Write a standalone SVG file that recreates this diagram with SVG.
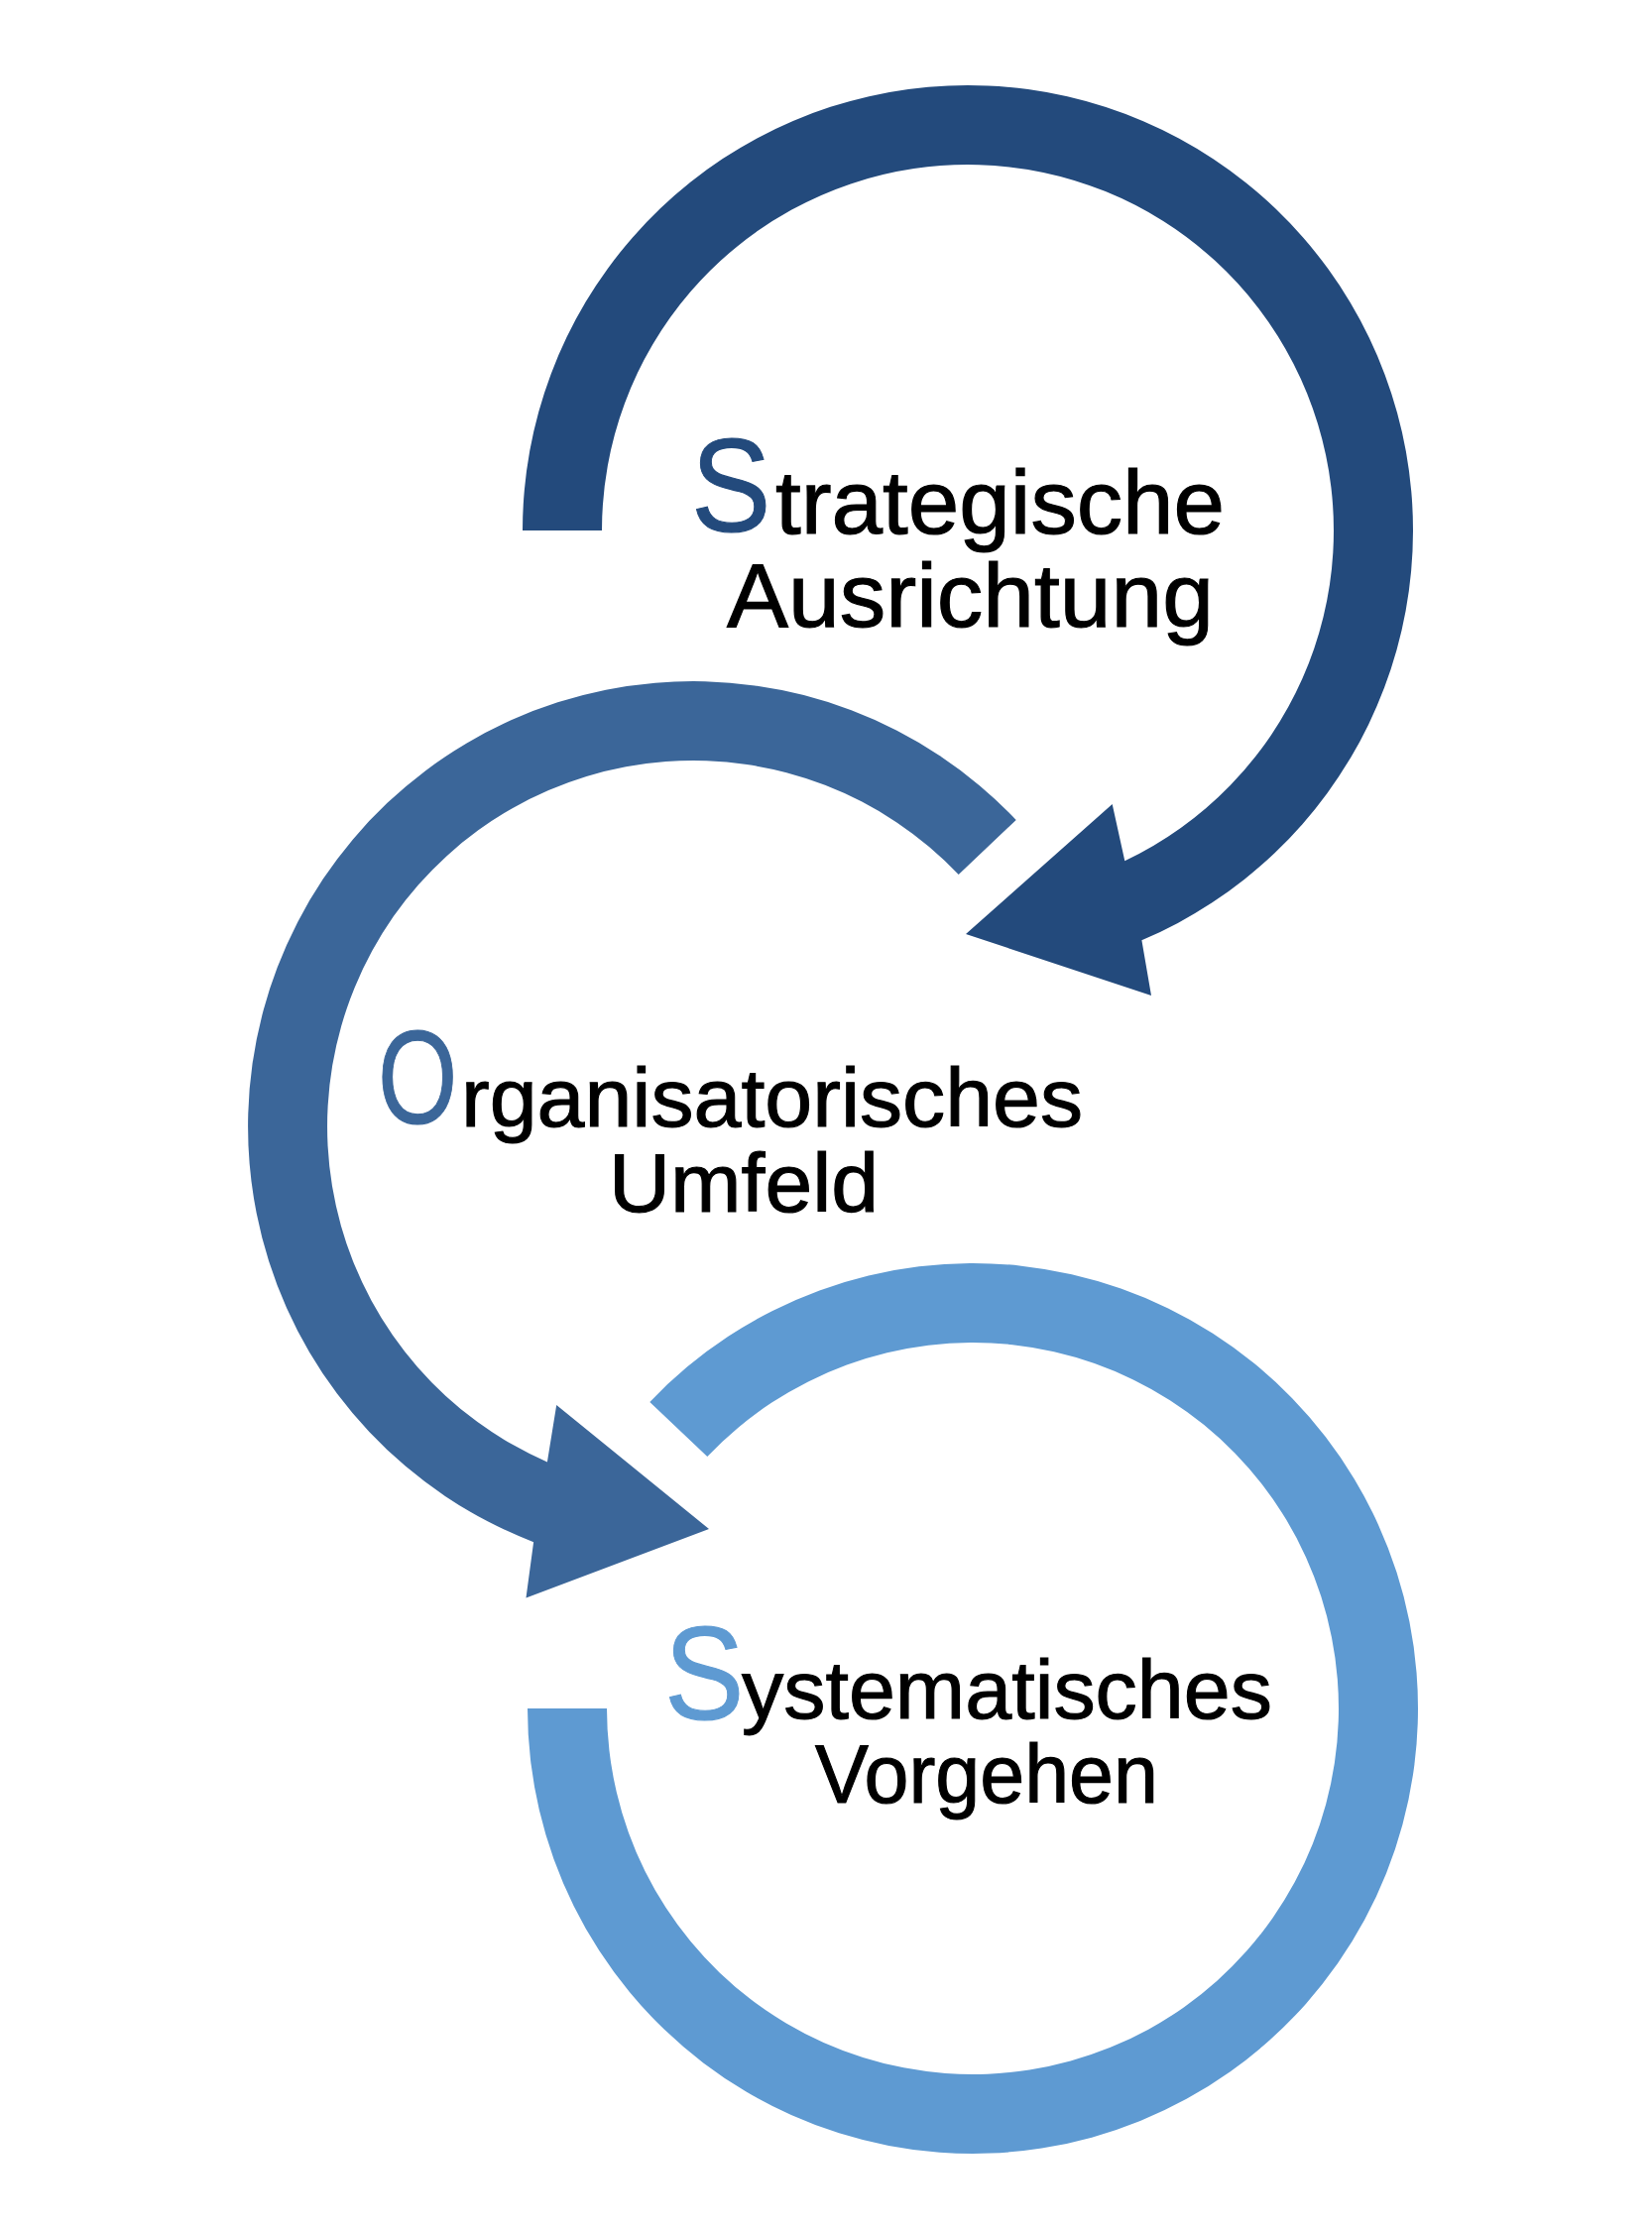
<svg xmlns="http://www.w3.org/2000/svg" width="1666" height="2250" viewBox="0 0 1666 2250">
  <style>
    .bg { fill: #ffffff; }
    .c1 { fill: #234A7C; }
    .c2 { fill: #3B6699; }
    .c3 { fill: #5E9AD2; }
    .t { font-family: "Liberation Sans", Arial, sans-serif; fill: #000000; stroke: #000000; stroke-width: 1.1; }
    .big { font-family: "Liberation Sans", Arial, sans-serif; font-size: 134px; stroke-width: 1.1; }
    .b1 { fill: #234A7C; stroke: #234A7C; }
    .b2 { fill: #3B6699; stroke: #3B6699; }
    .b3 { fill: #5E9AD2; stroke: #5E9AD2; }
  </style>
  <rect class="bg" x="0" y="0" width="1666" height="2250"/>

  <g id="node-strategische-ausrichtung">
    <path class="c1" d="M 527 535 A 449 449 0 1 1 1151.4 948.3 L 1161 1004 L 974 942 L 1121.7 811 L 1134.3 868.3 A 369 369 0 1 0 607 535 Z"/>
    <text class="big b1" transform="translate(697 536) scale(0.9 1)" x="0" y="0">S</text>
    <text class="t" x="782" y="538" font-size="90" textLength="453" lengthAdjust="spacingAndGlyphs">trategische</text>
    <text class="t" x="733" y="632" font-size="90" textLength="491" lengthAdjust="spacingAndGlyphs">Ausrichtung</text>
  </g>

  <g id="node-organisatorisches-umfeld">
    <path class="c2" d="M 966.7 882 L 1024.7 826.9 A 449 449 0 1 0 538.1 1555.2 L 530.5 1611.5 L 715 1542 L 561.2 1417 L 551.9 1474.4 A 369 369 0 1 1 966.7 882 Z"/>
    <text class="big b2" transform="translate(381 1133) scale(0.77 1)" x="0" y="0">O</text>
    <text class="t" x="465" y="1136" font-size="84" textLength="627" lengthAdjust="spacingAndGlyphs">rganisatorisches</text>
    <text class="t" x="614" y="1222" font-size="84" textLength="272" lengthAdjust="spacingAndGlyphs">Umfeld</text>
  </g>

  <g id="node-systematisches-vorgehen">
    <path class="c3" d="M 655.3 1413.9 A 449 449 0 1 1 532 1723 L 612 1723 A 369 369 0 1 0 713.3 1469 Z"/>
    <text class="big b3" transform="translate(670 1734) scale(0.9 1)" x="0" y="0">S</text>
    <text class="t" x="748" y="1733" font-size="84" textLength="535" lengthAdjust="spacingAndGlyphs">ystematisches</text>
    <text class="t" x="822" y="1818" font-size="84" textLength="346" lengthAdjust="spacingAndGlyphs">Vorgehen</text>
  </g>
</svg>
